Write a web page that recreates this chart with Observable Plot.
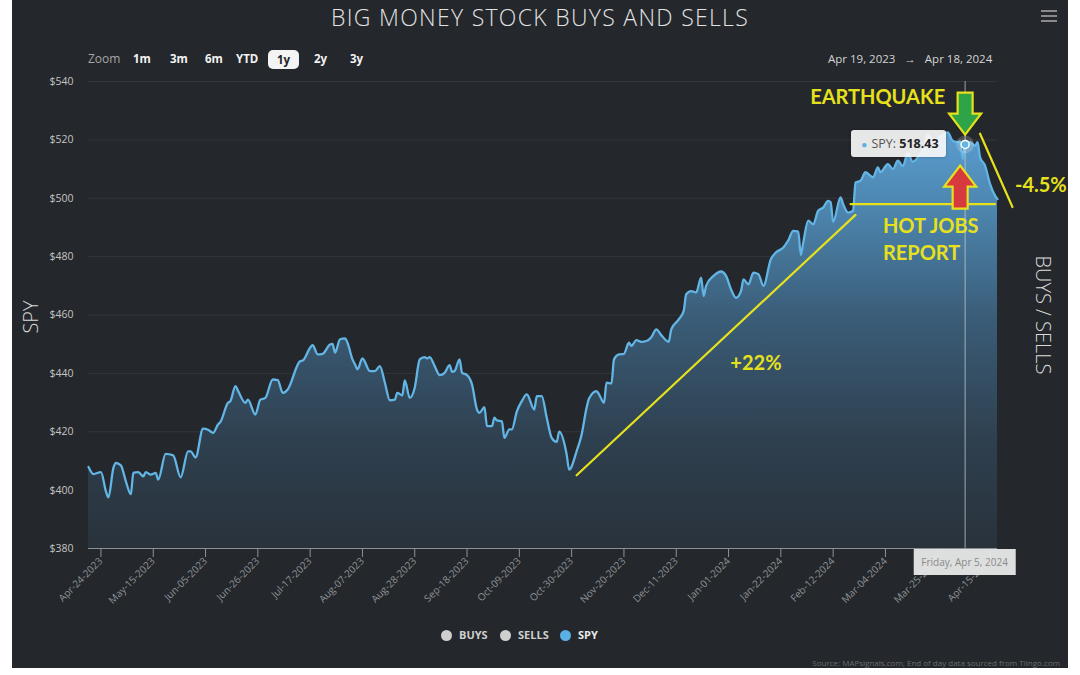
<!DOCTYPE html>
<html><head><meta charset="utf-8">
<script src="https://cdn.jsdelivr.net/npm/d3@7"></script>
<script src="https://cdn.jsdelivr.net/npm/@observablehq/plot@0.6"></script>
<style>
html,body{margin:0;padding:0;background:#fff;}
#wrap{position:relative;width:1080px;height:675px;overflow:hidden;background:#fff;font-family:"Open Sans",sans-serif;}
#panel{position:absolute;left:12px;top:0;width:1056px;height:668px;background:#24272b;}
#chart{position:absolute;left:0;top:0;}
.abs{position:absolute;white-space:nowrap;line-height:1;}
#title{left:0;width:1080px;top:6px;text-align:center;font-size:23px;color:#e2e2e2;font-weight:300;letter-spacing:1.3px;}
.zb{font-size:11.5px;font-weight:700;color:#f2f2f2;top:53px;}
#zoomlbl{left:88px;top:53px;font-size:12px;color:#a6a6a6;}
#btn1y{left:268px;top:50px;width:31px;height:19px;border-radius:5px;background:#f4f4f4;color:#222;font-size:11.5px;font-weight:700;text-align:center;line-height:19px;}
#range{left:828px;top:53px;font-size:11.5px;color:#d4d4d4;}
.hb{left:1041px;width:16px;height:2px;background:#8a8a8a;}
.leg{top:629px;font-size:11px;font-weight:700;color:#cfcfcf;}
.dot{width:11px;height:11px;border-radius:50%;top:630px;}
#source{right:20px;top:659px;font-size:8px;color:#6c6c6c;}
#ytitle{left:31px;top:317px;transform:translate(-50%,-50%) rotate(-90deg);font-size:20px;color:#dadada;font-weight:300;}
#ytitle2{left:1043px;top:315px;transform:translate(-50%,-50%) rotate(90deg);font-size:20px;color:#dadada;font-weight:300;}
#tip{height:27px;background:rgba(247,247,247,0.92);border-radius:3px;font-size:12.5px;color:#555;line-height:27px;padding:0 7px 0 10px;box-shadow:0 0 3px rgba(0,0,0,0.3);}
#tip b{color:#222;}
#tip .d{color:#5ab0e4;font-size:10px;margin-right:4px;}
#datelbl{height:26px;background:rgba(232,232,232,0.95);font-size:10px;color:#8a8a8a;line-height:26px;padding:0 8px;transform:translateX(-50%);}
</style></head>
<body>
<div id="wrap">
  <div id="panel"></div>
  <div id="chart" class="abs"></div>
  <div id="title" class="abs">BIG MONEY STOCK BUYS AND SELLS</div>
  <div class="abs hb" style="top:10px"></div>
  <div class="abs hb" style="top:15px"></div>
  <div class="abs hb" style="top:20px"></div>
  <div id="zoomlbl" class="abs">Zoom</div>
  <div class="abs zb" style="left:133px">1m</div>
  <div class="abs zb" style="left:170px">3m</div>
  <div class="abs zb" style="left:205px">6m</div>
  <div class="abs zb" style="left:236px">YTD</div>
  <div id="btn1y" class="abs">1y</div>
  <div class="abs zb" style="left:314px">2y</div>
  <div class="abs zb" style="left:350px">3y</div>
  <div id="range" class="abs">Apr 19, 2023 &nbsp;&nbsp;→&nbsp;&nbsp; Apr 18, 2024</div>
  <div id="ytitle" class="abs">SPY</div>
  <div id="ytitle2" class="abs">BUYS / SELLS</div>
  <div class="abs dot" style="left:441px;background:#cfcfcf"></div>
  <div class="abs leg" style="left:459px">BUYS</div>
  <div class="abs dot" style="left:500px;background:#cfcfcf"></div>
  <div class="abs leg" style="left:518px">SELLS</div>
  <div class="abs dot" style="left:560px;background:#5ab0e4"></div>
  <div class="abs leg" style="left:578px;color:#e8e8e8">SPY</div>
  <div id="source" class="abs">Source: MAPsignals.com, End of day data sourced from Tiingo.com</div>
  <div id="tip" class="abs"></div>
  <div id="datelbl" class="abs"></div>
</div>
<script>
// ---- data ----
const spyDates = [
"2023-04-19","2023-04-21","2023-04-24","2023-04-26","2023-04-27","2023-04-29","2023-04-30","2023-05-02","2023-05-04","2023-05-06",
"2023-05-07","2023-05-09","2023-05-11","2023-05-12","2023-05-14","2023-05-16","2023-05-17","2023-05-20","2023-05-23","2023-05-26",
"2023-05-29","2023-05-30","2023-06-01","2023-06-04","2023-06-06","2023-06-08","2023-06-10","2023-06-11","2023-06-14","2023-06-15",
"2023-06-17","2023-06-18","2023-06-21","2023-06-22","2023-06-25","2023-06-27","2023-06-29","2023-07-02","2023-07-04","2023-07-06",
"2023-07-08","2023-07-13","2023-07-14","2023-07-17","2023-07-18","2023-07-20","2023-07-22","2023-07-25","2023-07-26","2023-07-27",
"2023-07-29","2023-07-31","2023-08-01","2023-08-03","2023-08-04","2023-08-05","2023-08-07","2023-08-10","2023-08-12","2023-08-14",
"2023-08-16","2023-08-18","2023-08-20","2023-08-21","2023-08-23","2023-08-24","2023-08-26","2023-08-28","2023-08-30","2023-09-01",
"2023-09-02","2023-09-03","2023-09-05","2023-09-07","2023-09-09","2023-09-11","2023-09-12","2023-09-13","2023-09-15","2023-09-16",
"2023-09-18","2023-09-20","2023-09-22","2023-09-23","2023-09-25","2023-09-26","2023-09-28","2023-09-29","2023-09-30","2023-10-02",
"2023-10-03","2023-10-05","2023-10-06","2023-10-08","2023-10-10","2023-10-12","2023-10-15","2023-10-16","2023-10-18","2023-10-20",
"2023-10-22","2023-10-24","2023-10-25","2023-10-28","2023-10-29","2023-11-01","2023-11-03","2023-11-05","2023-11-06","2023-11-09",
"2023-11-10","2023-11-12","2023-11-13","2023-11-15","2023-11-16","2023-11-18","2023-11-20","2023-11-22","2023-11-23","2023-11-25",
"2023-11-27","2023-11-29","2023-12-01","2023-12-03","2023-12-05","2023-12-08","2023-12-09","2023-12-12","2023-12-14","2023-12-15",
"2023-12-17","2023-12-19","2023-12-21","2023-12-22","2023-12-23","2023-12-26","2023-12-29","2023-12-31","2024-01-02","2024-01-04",
"2024-01-06","2024-01-07","2024-01-09","2024-01-11","2024-01-13","2024-01-15","2024-01-18","2024-01-20","2024-01-23","2024-01-25",
"2024-01-27","2024-01-29","2024-01-30","2024-01-31","2024-02-02","2024-02-04","2024-02-06","2024-02-08","2024-02-10","2024-02-11",
"2024-02-12","2024-02-15","2024-02-16","2024-02-18","2024-02-20","2024-02-21","2024-02-23","2024-02-25","2024-02-28","2024-03-01",
"2024-03-02","2024-03-05","2024-03-07","2024-03-09","2024-03-11","2024-03-13","2024-03-15","2024-03-17","2024-03-19","2024-03-21",
"2024-03-24","2024-03-26","2024-03-29","2024-03-31","2024-04-02","2024-04-03","2024-04-04","2024-04-05","2024-04-07","2024-04-09",
"2024-04-10","2024-04-11","2024-04-13","2024-04-15","2024-04-17","2024-04-18"];
const spyValues = [
407.9,405.5,406.2,399.6,397.5,407.6,409.3,408.5,403.0,398.6,
405.9,406.2,404.7,406.2,405.3,405.9,403.6,412.4,411.9,404.4,
413.3,413.3,411.2,421.1,420.7,419.6,422.5,423.4,429.9,430.5,
435.6,434.1,429.9,431.0,425.9,431.0,431.6,437.9,437.7,433.3,
434.5,444.2,444.4,448.8,449.7,446.5,446.7,449.9,450.1,447.1,
451.7,452.0,450.5,444.8,443.1,441.4,445.1,440.8,440.8,442.5,
436.8,430.8,431.0,433.3,432.5,437.6,431.6,435.1,444.8,445.6,
445.1,445.6,442.5,439.4,440.2,442.8,440.5,440.8,444.8,440.2,
439.4,436.2,427.6,426.5,428.4,421.9,421.9,424.8,423.9,423.6,
417.9,420.8,420.8,427.0,430.5,432.8,427.6,432.2,432.2,424.8,
417.9,416.5,420.0,412.2,407.0,413.3,419.0,428.2,431.4,433.9,
432.8,429.9,436.8,436.5,444.8,446.5,446.7,450.5,449.4,451.4,
450.8,451.1,452.4,455.1,453.1,450.8,455.1,458.5,461.4,467.1,
468.2,467.7,472.8,466.5,470.0,473.4,474.9,473.4,468.8,465.9,
468.2,472.2,470.5,474.5,474.0,470.0,479.1,481.4,483.1,485.6,
488.8,488.6,480.6,484.8,492.3,491.1,495.7,496.8,499.1,498.6,
491.9,500.3,498.0,495.1,495.7,505.4,506.0,508.9,507.2,510.6,
508.9,511.7,510.0,512.9,511.0,515.5,512.5,514.0,516.5,521.5,
519.5,521.0,522.6,519.7,519.2,519.5,513.5,518.43,519.2,518.0,
519.2,514.0,511.2,504.9,500.9,499.7];
const xDomain = ["2023-04-19", "2024-04-18"];
const xTicks = ["2023-04-24","2023-05-15","2023-06-05","2023-06-26","2023-07-17","2023-08-07","2023-08-28","2023-09-18",
  "2023-10-09","2023-10-30","2023-11-20","2023-12-11","2024-01-01","2024-01-22","2024-02-12","2024-03-04","2024-03-25","2024-04-15"];
const yTicks = [380, 400, 420, 440, 460, 480, 500, 520, 540];
const hoverDate = "2024-04-05";
const hoverValue = 518.43;
// annotations (date, value)
const gainLine = [["2023-11-01", 405.1], ["2024-02-21", 494.3]];
const supportLine = [["2024-02-19", 498.0], ["2024-04-17", 498.0]];
const dropLine = [["2024-04-11", 522.1], ["2024-04-24", 497.0]];
const gainLabel = [["2024-01-12", 443.2, "+22%"]];
const dropLabel = [["2024-04-25", 504.3, "-4.5%"]];
const quakeLabel = [["2024-03-28", 534.5, "EARTHQUAKE"]];
const jobsLabel = [["2024-03-03", 486.3, "HOT JOBS\nREPORT"]];
const quakeArrow = [["2024-04-05", 521.8]];
const jobsArrow = [["2024-04-03", 511.2]];

// ---- build ----
const parse = d3.utcParse("%Y-%m-%d");
const spy = spyDates.map((d, i) => ({date: parse(d), value: spyValues[i]}));
const pts = a => a.map(([d, v, t]) => ({date: parse(d), value: v, text: t}));
const YEL = "#e6e11c";
const blockArrow = {
  draw(ctx, l) {
    const ws = 7.5, wh = 16, hl = 21;
    ctx.moveTo(-ws, 0); ctx.lineTo(-ws, -(l - hl)); ctx.lineTo(-wh, -(l - hl));
    ctx.lineTo(0, -l); ctx.lineTo(wh, -(l - hl)); ctx.lineTo(ws, -(l - hl));
    ctx.lineTo(ws, 0); ctx.closePath();
  }
};
const fontA = "Lato, 'Open Sans', sans-serif";

const chart = Plot.plot({
  width: 1080, height: 675,
  marginLeft: 88, marginRight: 83, marginTop: 81, marginBottom: 127,
  style: {background: "transparent", fontFamily: "'Open Sans', sans-serif", overflow: "visible"},
  x: {type: "utc", domain: xDomain.map(parse)},
  y: {domain: [380, 540]},
  marks: [
    Plot.gridY(yTicks, {stroke: "#33363b", strokeOpacity: 1}),
    Plot.areaY(spy, {x: "date", y1: 380, y2: "value", fill: "url(#spyGrad)", curve: "monotone-x"}),
    Plot.lineY(spy, {x: "date", y: "value", stroke: "#62b5e5", strokeWidth: 2.3, curve: "monotone-x"}),
    Plot.ruleX([parse(hoverDate)], {stroke: "#c9ced2", strokeOpacity: 0.75, strokeWidth: 1}),
    Plot.ruleY([380], {stroke: "#8a9096", strokeWidth: 1.2}),
    Plot.axisY({ticks: yTicks, tickFormat: d => "$" + d, tickSize: 0, tickPadding: 15, fontSize: 10.5, color: "#c4c4c4", label: null}),
    Plot.axisX({ticks: xTicks.map(parse), tickFormat: d3.utcFormat("%b-%d-%Y"), tickRotate: -45, tickSize: 9, tickPadding: 2, fontSize: 10, color: "#8e9398", label: null}),
    Plot.line(pts(gainLine), {x: "date", y: "value", stroke: YEL, strokeWidth: 2.2}),
    Plot.line(pts(supportLine), {x: "date", y: "value", stroke: YEL, strokeWidth: 2.2}),
    Plot.line(pts(dropLine), {x: "date", y: "value", stroke: YEL, strokeWidth: 2.2}),
    Plot.text(pts(gainLabel), {x: "date", y: "value", text: "text", fill: YEL, fontSize: 20, fontWeight: "bold", fontFamily: fontA}),
    Plot.text(pts(dropLabel), {x: "date", y: "value", text: "text", fill: YEL, fontSize: 20, fontWeight: "bold", fontFamily: fontA, textAnchor: "start"}),
    Plot.text(pts(quakeLabel), {x: "date", y: "value", text: "text", fill: YEL, fontSize: 20, fontWeight: "bold", fontFamily: fontA, textAnchor: "end"}),
    Plot.text(pts(jobsLabel), {x: "date", y: "value", text: "text", fill: YEL, fontSize: 20, fontWeight: "bold", fontFamily: fontA, textAnchor: "start", lineHeight: 1.35}),
    Plot.vector(pts(quakeArrow), {x: "date", y: "value", length: 42, rotate: 180, anchor: "end", shape: blockArrow, fill: "#2ea347", stroke: YEL, strokeWidth: 2.2, strokeLinejoin: "miter"}),
    Plot.vector(pts(jobsArrow), {x: "date", y: "value", length: 43, rotate: 0, anchor: "end", shape: blockArrow, fill: "#d63a3e", stroke: YEL, strokeWidth: 2.2, strokeLinejoin: "miter"}),
    Plot.dot([{date: parse(hoverDate), value: hoverValue}], {x: "date", y: "value", r: 9, fill: "#ffffff", fillOpacity: 0.18}),
    Plot.dot([{date: parse(hoverDate), value: hoverValue}], {x: "date", y: "value", r: 4, fill: "#62b5e5", stroke: "#ffffff", strokeWidth: 1.5})
  ]
});
const defs = d3.select(chart).insert("defs", ":first-child");
const g = defs.append("linearGradient").attr("id", "spyGrad").attr("x1", 0).attr("y1", 0).attr("x2", 0).attr("y2", 1);
[[0, "#5a9dd0"], [0.18, "#4d86af"], [0.45, "#3a5c77"], [0.75, "#2e3f4e"], [1, "#29323b"]]
  .forEach(([o, c]) => g.append("stop").attr("offset", o).attr("stop-color", c));
document.getElementById("chart").appendChild(chart);

// tooltip positioned from the scales
const sx = chart.scale("x"), sy = chart.scale("y");
const hx = sx.apply(parse(hoverDate)), hy = sy.apply(hoverValue);
const tip = document.getElementById("tip");
tip.innerHTML = '<span class="d">●</span>SPY: <b>' + hoverValue.toFixed(2) + '</b>';
const tw = tip.getBoundingClientRect().width;
tip.style.left = (hx - 19 - tw) + "px";
tip.style.top = (hy - 14) + "px";
const dl = document.getElementById("datelbl");
dl.textContent = d3.utcFormat("%A, %b %-d, %Y")(parse(hoverDate));
dl.style.left = hx + "px";
dl.style.top = (sy.apply(380) + 1) + "px";
</script>
</body></html>
